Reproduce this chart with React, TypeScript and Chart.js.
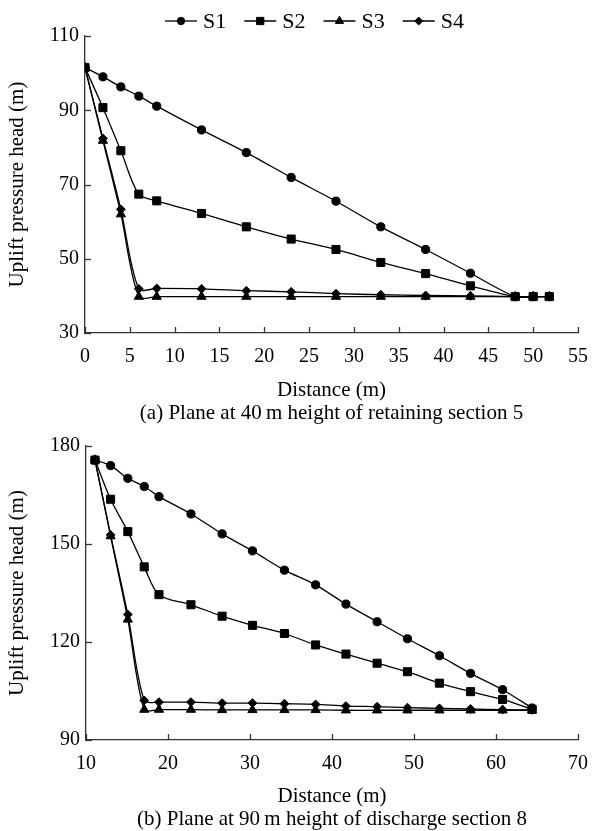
import React, { useEffect, useRef, useState } from 'react';
import { Chart, registerables } from 'chart.js';

Chart.register(...registerables);

const FONT = "'Liberation Serif', 'Times New Roman', Times, 'DejaVu Serif', serif";
const AXIS_COLOR = '#333333';

// ---- Panel (a) ----
const distanceA = [0, 2, 4, 6, 8, 13, 18, 23, 28, 33, 38, 43, 48, 50, 51.8];
const headA_S1 = [101.5, 99.0, 96.3, 93.8, 91.1, 84.7, 78.6, 71.9, 65.5, 58.6, 52.5, 46.1, 39.8, 39.8, 39.8];
const headA_S2 = [101.5, 90.7, 79.1, 67.4, 65.6, 62.2, 58.6, 55.3, 52.5, 49.0, 46.0, 42.7, 39.8, 39.8, 39.8];
const headA_S3 = [101.5, 81.8, 62.0, 39.8, 39.8, 39.8, 39.8, 39.8, 39.8, 39.8, 39.8, 39.8, 39.8, 39.8, 39.8];
const headA_S4 = [101.5, 82.4, 63.3, 41.9, 42.0, 41.9, 41.4, 41.1, 40.6, 40.3, 40.1, 40.0, 39.8, 39.8, 39.8];

// ---- Panel (b) ----
const distanceB = [11.1, 13.0, 15.1, 17.1, 18.9, 22.8, 26.6, 30.3, 34.2, 38.0, 41.7, 45.5, 49.2, 53.1, 56.9, 60.8, 64.4];
const headB_S1 = [175.7, 174.0, 170.1, 167.6, 164.5, 159.2, 153.1, 147.9, 142.0, 137.5, 131.6, 126.2, 121.0, 115.8, 110.4, 105.4, 99.8];
const headB_S2 = [175.7, 163.7, 153.8, 143.0, 134.5, 131.4, 127.9, 125.1, 122.6, 119.1, 116.3, 113.5, 110.9, 107.4, 104.8, 102.4, 99.4];
const headB_S3 = [175.7, 152.4, 126.9, 99.3, 99.3, 99.3, 99.2, 99.2, 99.2, 99.2, 99.1, 99.1, 99.1, 99.1, 99.1, 99.1, 99.1];
const headB_S4 = [175.7, 152.8, 128.4, 102.1, 101.6, 101.6, 101.3, 101.3, 101.1, 100.9, 100.4, 100.2, 99.9, 99.7, 99.5, 99.3, 99.2];

const seriesNames = ['S1', 'S2', 'S3', 'S4'];
const pointStyles = ['circle', 'rect', 'triangle', 'rectRot'];
const pointRadii = [4.1, 5.7, 5.3, 4.4];

const xTicksA = { min: 0, max: 55, step: 5 };
const yTicksA = { min: 30, max: 110, step: 20 };
const xTicksB = { min: 10, max: 70, step: 10 };
const yTicksB = { min: 90, max: 180, step: 30 };

const captionA = '(a) Plane at 40\u2009m height of retaining section 5';
const captionB = '(b) Plane at 90\u2009m height of discharge section 8';

function drawMarker(ctx: CanvasRenderingContext2D, style: string, x: number, y: number, r: number) {
  ctx.beginPath();
  if (style === 'circle') {
    ctx.arc(x, y, r, 0, Math.PI * 2);
  } else if (style === 'rect') {
    const s = r * Math.SQRT1_2;
    ctx.rect(x - s, y - s, 2 * s, 2 * s);
  } else if (style === 'triangle') {
    let a = 0;
    ctx.moveTo(x + Math.sin(a) * r, y - Math.cos(a) * r);
    a += (2 * Math.PI) / 3;
    ctx.lineTo(x + Math.sin(a) * r, y - Math.cos(a) * r);
    a += (2 * Math.PI) / 3;
    ctx.lineTo(x + Math.sin(a) * r, y - Math.cos(a) * r);
    ctx.closePath();
  } else {
    ctx.moveTo(x, y - r);
    ctx.lineTo(x + r, y);
    ctx.lineTo(x, y + r);
    ctx.lineTo(x - r, y);
    ctx.closePath();
  }
  ctx.fill();
  ctx.stroke();
}

const inwardTicks = {
  id: 'inwardTicks',
  afterDraw(chart: any) {
    const { ctx, chartArea, scales } = chart;
    ctx.save();
    ctx.strokeStyle = AXIS_COLOR;
    ctx.lineWidth = 1.3;
    const len = 6;
    scales.x.ticks.forEach((t: any) => {
      const px = Math.round(scales.x.getPixelForValue(t.value)) + 0.5;
      ctx.beginPath();
      ctx.moveTo(px, chartArea.bottom);
      ctx.lineTo(px, chartArea.bottom - len);
      ctx.stroke();
    });
    scales.y.ticks.forEach((t: any) => {
      const py = Math.round(scales.y.getPixelForValue(t.value)) + 0.5;
      ctx.beginPath();
      ctx.moveTo(chartArea.left, py);
      ctx.lineTo(chartArea.left + len, py);
      ctx.stroke();
    });
    ctx.restore();
  },
};

const lineLegend = {
  id: 'lineLegend',
  afterDraw(chart: any, _args: any, opts: any) {
    if (!opts || !opts.show) return;
    const { ctx } = chart;
    let x = opts.x;
    const y = opts.y;
    ctx.save();
    ctx.font = `${opts.fontSize}px ${FONT}`;
    ctx.textBaseline = 'middle';
    ctx.textAlign = 'left';
    chart.data.datasets.forEach((ds: any) => {
      ctx.strokeStyle = ds.borderColor;
      ctx.lineWidth = ds.borderWidth;
      ctx.beginPath();
      ctx.moveTo(x, y);
      ctx.lineTo(x + opts.lineLength, y);
      ctx.stroke();
      ctx.fillStyle = ds.pointBackgroundColor;
      ctx.strokeStyle = ds.pointBorderColor;
      ctx.lineWidth = ds.pointBorderWidth;
      drawMarker(ctx, ds.pointStyle, x + opts.lineLength / 2, y, ds.pointRadius * opts.markerScale);
      x += opts.lineLength + opts.textGap;
      ctx.fillStyle = '#000';
      ctx.fillText(ds.label, x, y + 1);
      x += ctx.measureText(ds.label).width + opts.itemGap;
    });
    ctx.restore();
  },
};

function makeDatasets(xs: number[], ys: number[][]) {
  return ys.map((vals, i) => ({
    label: seriesNames[i],
    data: xs.map((x, j) => ({ x, y: vals[j] })),
    borderColor: '#000',
    borderWidth: 1.3,
    pointStyle: pointStyles[i],
    pointRadius: pointRadii[i],
    pointBackgroundColor: '#000',
    pointBorderColor: '#000',
    pointBorderWidth: 1,
    tension: 0.3,
    fill: false,
  }));
}

function makeConfig(opts: {
  xs: number[];
  ys: number[][];
  xt: { min: number; max: number; step: number };
  yt: { min: number; max: number; step: number };
  caption: string;
  padTop: number;
  padRight: number;
  yWidth: number;
  xHeight: number;
  titleBottomPad: number;
  legend: boolean;
}): any {
  const tickFont = { family: FONT, size: 20 };
  const titleFont = { family: FONT, size: 21, lineHeight: 1.1 };
  return {
    type: 'line',
    data: { datasets: makeDatasets(opts.xs, opts.ys) },
    plugins: [inwardTicks, lineLegend],
    options: {
      responsive: false,
      animation: false,
      devicePixelRatio: 1,
      font: { family: FONT },
      layout: { padding: { top: opts.padTop, right: opts.padRight, left: 0, bottom: 0 } },
      plugins: {
        legend: { display: false },
        tooltip: { enabled: false },
        lineLegend: { show: opts.legend, x: 165, y: 21, fontSize: 22, lineLength: 32, textGap: 6, itemGap: 18, markerScale: 0.9 },
      },
      scales: {
        x: {
          type: 'linear',
          min: opts.xt.min,
          max: opts.xt.max,
          afterFit: (s: any) => {
            s.height = opts.xHeight;
          },
          afterBuildTicks: (s: any) => {
            const t = [];
            for (let v = opts.xt.min; v <= opts.xt.max + 1e-9; v += opts.xt.step) t.push({ value: v });
            s.ticks = t;
          },
          ticks: { color: '#000', font: tickFont, padding: 12, maxRotation: 0, autoSkip: false },
          grid: { display: false, drawTicks: false },
          border: { display: true, color: AXIS_COLOR, width: 1.3 },
          title: {
            display: true,
            text: ['Distance (m)', opts.caption],
            color: '#000',
            font: titleFont,
            padding: { top: 0, bottom: opts.titleBottomPad },
          },
        },
        y: {
          type: 'linear',
          min: opts.yt.min,
          max: opts.yt.max,
          afterFit: (s: any) => {
            s.width = opts.yWidth;
          },
          afterBuildTicks: (s: any) => {
            const t = [];
            for (let v = opts.yt.min; v <= opts.yt.max + 1e-9; v += opts.yt.step) t.push({ value: v });
            s.ticks = t;
          },
          ticks: { color: '#000', font: tickFont, padding: 6 },
          grid: { display: false, drawTicks: false },
          border: { display: true, color: AXIS_COLOR, width: 1.3 },
          title: {
            display: true,
            text: 'Uplift pressure head (m)',
            color: '#000',
            font: titleFont,
            padding: { top: 6, bottom: 0 },
          },
        },
      },
    },
  };
}

function ChartCanvas({ config, width, height, ready }: { config: any; width: number; height: number; ready: boolean }) {
  const ref = useRef<HTMLCanvasElement | null>(null);
  useEffect(() => {
    if (!ref.current || !ready) return;
    const chart = new Chart(ref.current, config);
    return () => chart.destroy();
  }, [config, ready]);
  return <canvas ref={ref} width={width} height={height} style={{ display: 'block', width, height }} />;
}

const configA = makeConfig({
  xs: distanceA,
  ys: [headA_S1, headA_S2, headA_S3, headA_S4],
  xt: xTicksA,
  yt: yTicksA,
  caption: captionA,
  padTop: 36,
  padRight: 13,
  yWidth: 85,
  xHeight: 95,
  titleBottomPad: 3,
  legend: true,
});

const configB = makeConfig({
  xs: distanceB,
  ys: [headB_S1, headB_S2, headB_S3, headB_S4],
  xt: xTicksB,
  yt: yTicksB,
  caption: captionB,
  padTop: 15,
  padRight: 12,
  yWidth: 86,
  xHeight: 91,
  titleBottomPad: 0,
  legend: false,
});

export default function App() {
  const [ready, setReady] = useState(false);
  useEffect(() => {
    let done = false;
    const finish = () => {
      if (!done) {
        done = true;
        setReady(true);
      }
    };
    try {
      Promise.all([
        (document as any).fonts.load("20px 'Liberation Serif'"),
        (document as any).fonts.load("21px 'Liberation Serif'"),
      ]).then(finish, finish);
    } catch (e) {
      finish();
    }
    const t = setTimeout(finish, 300);
    return () => clearTimeout(t);
  }, []);
  return (
    <div style={{ position: 'absolute', left: 0, top: 0, width: 600, height: 831, background: '#fff', fontFamily: FONT }}>
      <ChartCanvas config={configA} width={600} height={428} ready={ready} />
      <ChartCanvas config={configB} width={600} height={403} ready={ready} />
    </div>
  );
}
